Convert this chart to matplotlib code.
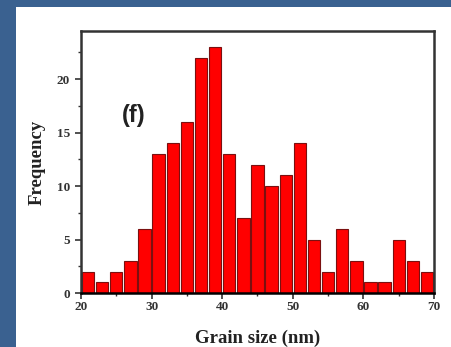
import matplotlib
matplotlib.use("Agg")
import matplotlib.pyplot as plt
from matplotlib.patches import Rectangle
from matplotlib.ticker import MultipleLocator

bin_left = [20, 22, 24, 26, 28, 30, 32, 34, 36, 38, 40, 42, 44, 46, 48,
            50, 52, 54, 56, 58, 60, 62, 64, 66, 68]
frequency = [2, 1, 2, 3, 6, 13, 14, 16, 22, 23, 13, 7, 12, 10, 11,
             14, 5, 2, 6, 3, 1, 1, 5, 3, 2]
x_ticks = [20, 30, 40, 50, 60, 70]
y_ticks = [0, 5, 10, 15, 20]

fig = plt.figure(figsize=(4.52, 3.47), dpi=100)
fig.patch.set_facecolor("#3A6190")
fig.patches.append(Rectangle((16 / 452, 0), 1 - 16 / 452, 1 - 7 / 347,
                             transform=fig.transFigure, facecolor="white",
                             edgecolor="none", zorder=-10))

ax = fig.add_axes([81 / 452, 54 / 347, (434 - 81) / 452, (293 - 31) / 347])
ax.set_zorder(5)
ax.set_facecolor("white")
ax.bar([b + 1 for b in bin_left], frequency, width=1.75, color="#FF0000",
       edgecolor="#7A1010", linewidth=0.8, zorder=2)

ax.set_xlim(20, 70)
ax.set_ylim(0, 24.5)
ax.set_xticks(x_ticks)
ax.set_yticks(y_ticks)
ax.xaxis.set_minor_locator(MultipleLocator(5))
ax.yaxis.set_minor_locator(MultipleLocator(2.5))
for s in ax.spines.values():
    s.set_linewidth(1.8)
    s.set_color("#333333")
ax.spines["bottom"].set_color("black")
ax.tick_params(which="major", direction="out", length=4, width=1.2,
               labelsize=9.5, pad=2, colors="#333333")
ax.tick_params(axis="y", which="major", pad=4)
ax.tick_params(which="minor", direction="out", length=2.5, width=1.0,
               colors="#333333")
for lab in ax.get_xticklabels() + ax.get_yticklabels():
    lab.set_fontfamily("Liberation Serif")
    lab.set_fontweight("bold")

ax.set_xlabel("Grain size (nm)", fontfamily="Liberation Serif",
              fontweight="bold", fontsize=13.5, labelpad=12, color="#222222")
ax.set_ylabel("Frequency", fontfamily="Liberation Serif",
              fontweight="bold", fontsize=13.5, labelpad=8, color="#222222")
ax.text(27.5, 16.6, "(f)", fontfamily="Liberation Sans", fontweight="bold",
        fontsize=17, ha="center", va="center", color="#222222")

fig.savefig("out.png", dpi=100, facecolor=fig.get_facecolor())
